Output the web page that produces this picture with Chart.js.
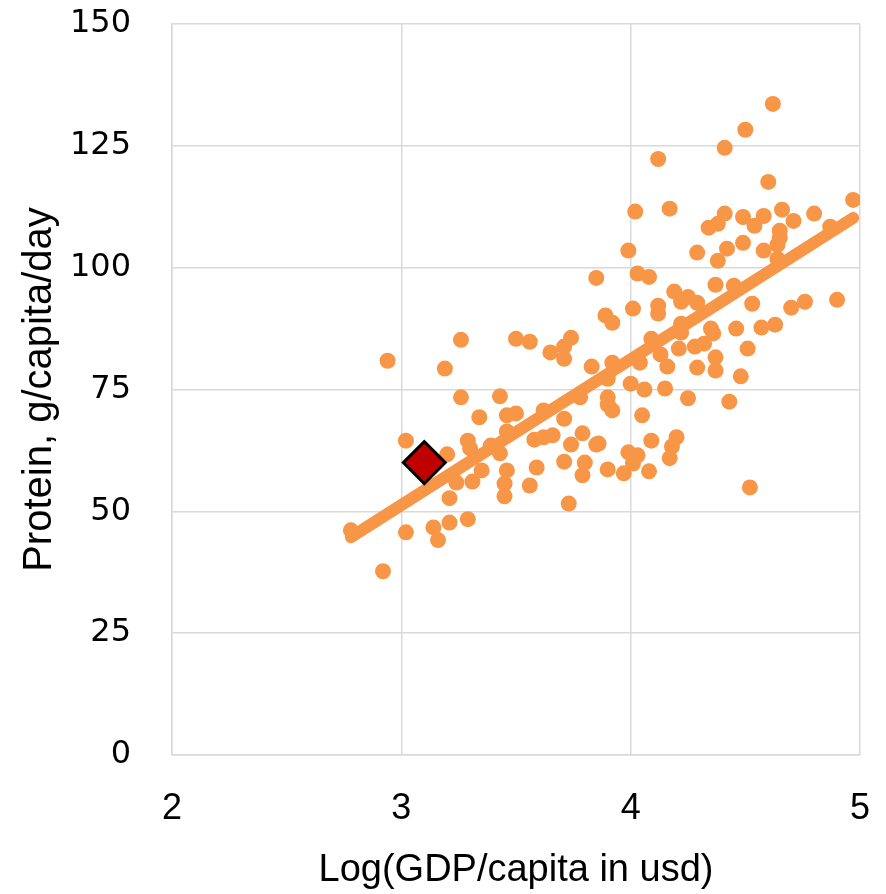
<!DOCTYPE html>
<html>
<head>
<meta charset="utf-8">
<script src="https://cdn.jsdelivr.net/npm/chart.js@4/dist/chart.umd.min.js"></script>
<style>
html,body{margin:0;padding:0;background:#fff;}
#wrap{width:886px;height:894px;position:relative;}
</style>
</head>
<body>
<div id="wrap"><canvas id="c" width="886" height="894"></canvas></div>
<script>
// Log(GDP/capita) of each country
const gdpLog = [4.62,4.50,4.41,4.12,4.60,4.97,4.17,4.02,4.66,4.41,4.49,4.58,4.80,4.71,4.38,4.34,4.54,4.65,4.65,4.64,
  4.87,4.42,4.49,4.58,4.29,4.38,4.64,3.99,3.85,4.03,4.08,4.19,4.25,4.22,4.29,4.37,4.45,4.53,4.70,4.76,
  4.90,4.12,4.01,4.12,3.89,3.92,4.09,4.22,4.22,4.35,4.36,4.46,4.57,4.63,4.51,4.28,4.32,4.21,4.13,4.04,
  3.92,4.16,4.29,4.37,4.37,4.48,4.00,4.06,4.15,4.25,4.43,4.05,3.90,3.90,3.92,3.90,3.86,4.09,4.20,4.18,
  4.17,3.99,4.03,4.01,3.90,3.97,4.08,4.52,3.74,3.71,3.71,3.65,3.56,3.50,3.83,3.78,3.71,3.62,3.58,3.62,
  3.66,3.74,3.79,3.85,3.80,3.79,3.71,3.59,3.56,3.73,3.43,3.46,3.45,3.45,3.43,3.46,3.50,3.46,3.26,2.94,
  3.19,3.26,3.34,3.02,3.29,3.30,3.39,3.20,3.35,3.24,3.31,3.21,2.78,3.02,3.14,3.16,3.21,3.29,2.92];
// Protein supply, g/capita/day
const protein = [133.6,128.3,124.6,122.3,117.6,113.9,112.1,111.5,111.9,111.1,110.4,110.6,111.1,109.6,109.0,108.2,108.6,107.6,106.1,104.7,
  108.4,103.9,105.1,103.5,103.1,101.4,101.8,103.5,97.9,98.8,98.1,95.1,94.0,93.0,92.8,96.5,96.3,92.6,91.8,93.0,
  93.4,92.2,91.6,90.6,90.2,88.7,85.4,88.5,86.7,87.5,86.5,87.5,87.7,88.3,83.4,83.8,84.4,83.4,82.2,80.5,
  80.5,79.7,79.5,81.6,78.9,77.7,76.2,75.0,75.2,73.2,72.5,69.7,73.4,71.9,70.7,77.2,63.9,64.5,65.2,63.3,
  60.9,62.1,61.5,59.8,58.6,57.8,58.2,54.9,85.6,83.8,81.3,82.6,84.8,85.4,79.7,73.4,69.0,70.7,64.7,65.2,
  65.6,63.7,66.0,63.7,60.0,57.4,60.2,59.0,55.3,51.6,61.9,58.4,55.7,53.1,73.6,69.7,70.1,66.4,85.2,80.9,
  79.3,73.4,69.3,64.5,64.5,62.9,63.5,61.7,58.4,55.9,56.1,52.7,46.1,45.7,46.7,44.1,47.7,48.4,37.7];
// Linear trend line end points
const trendX = [2.78, 4.97];
const trendY = [44.7, 110.2];
// Highlighted country
const highlightX = [3.10];
const highlightY = [60.0];
// Axis ticks
const xTicks = [2, 3, 4, 5];
const yTicks = [0, 25, 50, 75, 100, 125, 150];

const orange = '#F79646';
const pts = gdpLog.map((x, i) => ({x: x, y: protein[i]}));
const trend = trendX.map((x, i) => ({x: x, y: trendY[i]}));
const hl = highlightX.map((x, i) => ({x: x, y: highlightY[i]}));

const tickFontX = {family: "'Liberation Sans', sans-serif", size: 36};
const tickFontY = {family: "'DejaVu Sans', sans-serif", size: 32};
const titleFontX = {family: "'Liberation Sans', sans-serif", size: 38};
const titleFontY = {family: "'Liberation Sans', sans-serif", size: 40};

new Chart(document.getElementById('c'), {
  type: 'scatter',
  data: {
    datasets: [
      {
        type: 'line',
        data: trend,
        borderColor: orange,
        borderWidth: 12,
        borderCapStyle: 'round',
        pointRadius: 0,
        fill: false,
        order: 3
      },
      {
        data: pts,
        backgroundColor: orange,
        borderWidth: 0,
        pointRadius: 8,
        pointHoverRadius: 8,
        order: 2
      },
      {
        data: hl,
        pointStyle: 'rectRot',
        pointRadius: 21,
        backgroundColor: '#C00000',
        borderColor: '#000000',
        borderWidth: 3,
        order: 1
      }
    ]
  },
  options: {
    responsive: false,
    animation: false,
    layout: {padding: {top: 22, right: 26, left: 0, bottom: 0}},
    plugins: {legend: {display: false}, tooltip: {enabled: false}},
    scales: {
      x: {
        type: 'linear',
        min: xTicks[0], max: xTicks[xTicks.length - 1],
        afterBuildTicks: s => { s.ticks = xTicks.map(v => ({value: v})); },
        afterFit: s => { s.height = 139; },
        grid: {color: '#D9D9D9', lineWidth: 1.5, drawTicks: true, tickLength: 32, tickColor: 'rgba(0,0,0,0)'},
        border: {color: '#D9D9D9', width: 1.5},
        ticks: {color: '#000', font: tickFontX, padding: 0},
        title: {display: true, text: 'Log(GDP/capita in usd)', color: '#000', font: titleFontX, padding: {top: 0, bottom: 1}}
      },
      y: {
        type: 'linear',
        min: yTicks[0], max: yTicks[yTicks.length - 1],
        afterBuildTicks: s => { s.ticks = yTicks.map(v => ({value: v})); },
        afterFit: s => { s.width = 172; },
        grid: {color: '#D9D9D9', lineWidth: 1.5, drawTicks: true, tickLength: 41, tickColor: 'rgba(0,0,0,0)'},
        border: {color: '#D9D9D9', width: 1.5},
        ticks: {color: '#000', font: tickFontY, padding: 0},
        title: {display: true, text: 'Protein, g/capita/day', color: '#000', font: titleFontY, padding: {top: 16, bottom: 0}}
      }
    }
  }
});
</script>
</body>
</html>
